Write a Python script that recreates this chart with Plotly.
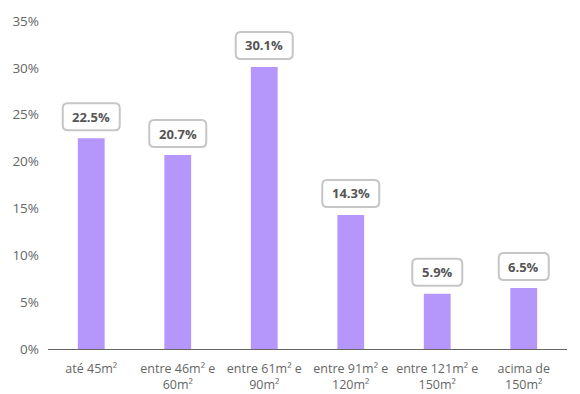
import plotly.graph_objects as go

categories = [
    "até 45m²",
    "entre 46m² e<br>60m²",
    "entre 61m² e<br>90m²",
    "entre 91m² e<br>120m²",
    "entre 121m² e<br>150m²",
    "acima de<br>150m²",
]
shares = [22.5, 20.7, 30.1, 14.3, 5.9, 6.5]
y_ticks = [0, 5, 10, 15, 20, 25, 30, 35]
y_tick_labels = [f"{v}%" for v in y_ticks]

bar_color = "#b596fb"
label_color = "#555555"
axis_text_color = "#666666"
font_family = "Open Sans, Lato, sans-serif"

positions = list(range(len(categories)))

fig = go.Figure(
    go.Bar(
        x=positions,
        y=shares,
        marker=dict(color=bar_color, line=dict(width=0)),
        hoverinfo="skip",
    )
)


def rounded_box(w, h, gap, r):
    """Rounded rectangle path in pixels, centred horizontally on the anchor,
    sitting `gap` pixels above it."""
    x0, x1 = -w / 2, w / 2
    y0, y1 = gap, gap + h
    return (
        f"M {x0 + r},{y0} L {x1 - r},{y0} Q {x1},{y0} {x1},{y0 + r} "
        f"L {x1},{y1 - r} Q {x1},{y1} {x1 - r},{y1} "
        f"L {x0 + r},{y1} Q {x0},{y1} {x0},{y1 - r} "
        f"L {x0},{y0 + r} Q {x0},{y0} {x0 + r},{y0} Z"
    )


box_h = 27
box_gap = 8
for pos, val in zip(positions, shares):
    text = f"{val:.1f}%"
    box_w = 7 * len(text) + 22
    fig.add_shape(
        type="path",
        xref="x",
        yref="y",
        xsizemode="pixel",
        ysizemode="pixel",
        xanchor=pos,
        yanchor=val,
        path=rounded_box(box_w, box_h, box_gap, 5),
        fillcolor="white",
        line=dict(color="#c6c6c6", width=2),
        layer="above",
    )
    fig.add_annotation(
        x=pos,
        y=val,
        text=f"<b>{text}</b>",
        showarrow=False,
        yanchor="middle",
        yshift=box_gap + box_h / 2,
        font=dict(family=font_family, size=13, color=label_color),
    )

fig.update_layout(
    width=580,
    height=394,
    margin=dict(l=48, r=13, t=21, b=45),
    plot_bgcolor="white",
    paper_bgcolor="white",
    bargap=0.69,
    showlegend=False,
    font=dict(family=font_family, size=12, color=axis_text_color),
    xaxis=dict(
        tickvals=positions,
        ticktext=categories,
        range=[-0.5, len(categories) - 0.5],
        automargin=False,
        showgrid=False,
        showline=True,
        linecolor="#666666",
        linewidth=1,
        ticks="",
        zeroline=False,
        ticklabelstandoff=8,
        tickfont=dict(size=12.5, color=axis_text_color),
    ),
    yaxis=dict(
        range=[0, 35],
        tickvals=y_ticks,
        ticktext=y_tick_labels,
        automargin=False,
        showgrid=False,
        zeroline=False,
        showline=False,
        ticks="",
        ticklabelstandoff=8,
        tickfont=dict(size=13.5, color=axis_text_color),
    ),
)

fig.write_html("out.html")
